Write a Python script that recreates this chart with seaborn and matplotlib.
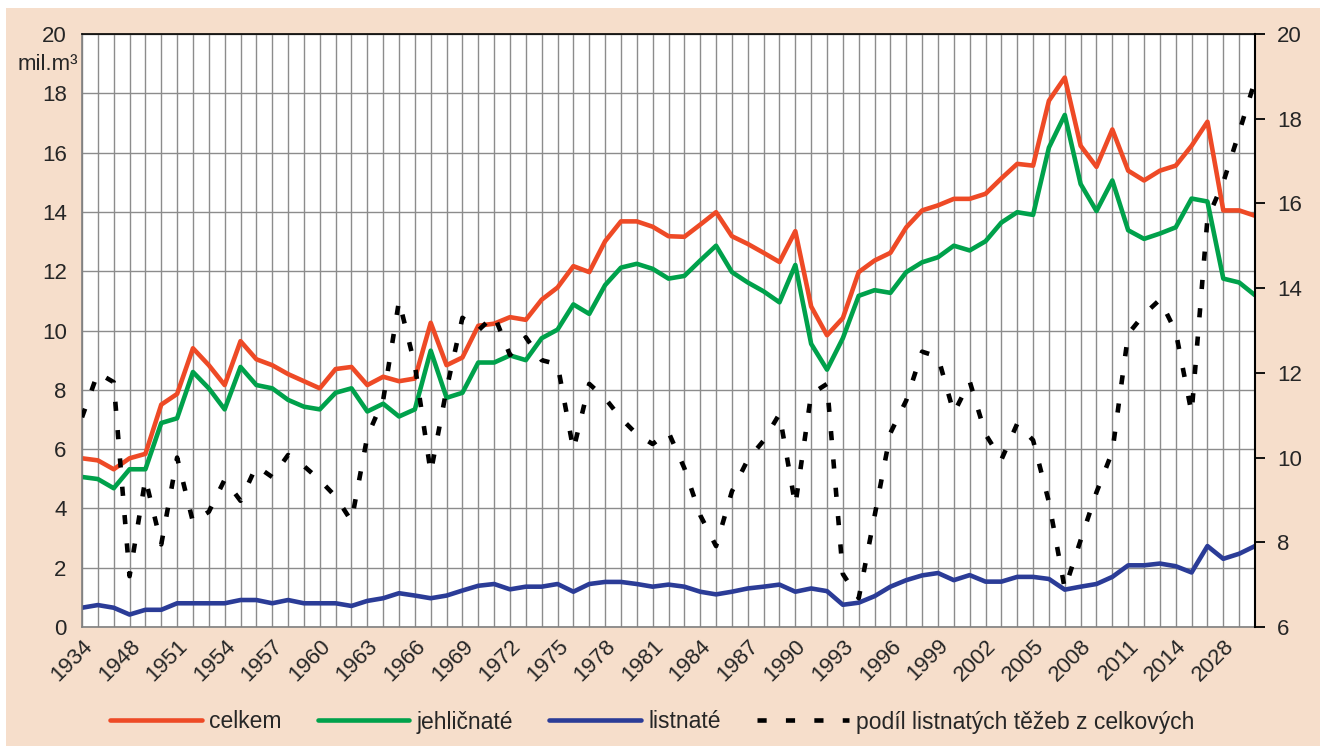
import pandas as pd
import numpy as np
import matplotlib
matplotlib.use("Agg")
import matplotlib.pyplot as plt
from matplotlib.patches import Rectangle
from matplotlib.lines import Line2D
import seaborn as sns

# Kategorie na ose x (popsana je kazda treti)
roky = ["1934", "1937", "1945"] + [str(r) for r in range(1948, 2017)] + ["2028", "2018", "2019"]

# Tezby v mil. m3 (leva osa)
celkem = [5.69, 5.62, 5.32, 5.69, 5.84, 7.50, 7.86, 9.40, 8.83, 8.16,
          9.64, 9.03, 8.83, 8.53, 8.29, 8.05, 8.70, 8.77, 8.16, 8.44,
          8.29, 8.38, 10.26, 8.83, 9.09, 10.16, 10.23, 10.45, 10.36, 11.04,
          11.45, 12.17, 11.97, 13.01, 13.68, 13.68, 13.50, 13.18, 13.16, 13.57,
          13.99, 13.18, 12.92, 12.62, 12.31, 13.35, 10.81, 9.84, 10.42, 11.97,
          12.36, 12.62, 13.48, 14.05, 14.22, 14.44, 14.44, 14.61, 15.13, 15.62,
          15.56, 17.75, 18.53, 16.23, 15.52, 16.78, 15.39, 15.06, 15.39, 15.56,
          16.23, 17.04, 14.05, 14.05, 13.87]

jehlicnate = [5.06, 4.99, 4.68, 5.32, 5.32, 6.88, 7.04, 8.60, 8.05, 7.34,
              8.77, 8.16, 8.05, 7.66, 7.43, 7.34, 7.90, 8.05, 7.27, 7.53,
              7.10, 7.34, 9.32, 7.73, 7.90, 8.92, 8.92, 9.16, 9.00, 9.74,
              10.03, 10.88, 10.56, 11.53, 12.12, 12.25, 12.08, 11.75, 11.84, 12.36,
              12.86, 11.97, 11.62, 11.32, 10.95, 12.21, 9.55, 8.68, 9.74, 11.17,
              11.36, 11.27, 11.97, 12.30, 12.47, 12.86, 12.70, 13.01, 13.64, 13.99,
              13.90, 16.17, 17.27, 14.94, 14.03, 15.06, 13.38, 13.09, 13.27, 13.48,
              14.45, 14.35, 11.75, 11.62, 11.19]

listnate = [0.65, 0.74, 0.65, 0.42, 0.58, 0.58, 0.80, 0.80, 0.80, 0.80,
            0.91, 0.91, 0.80, 0.91, 0.80, 0.80, 0.80, 0.71, 0.88, 0.97,
            1.14, 1.06, 0.97, 1.06, 1.23, 1.39, 1.45, 1.27, 1.36, 1.36,
            1.45, 1.19, 1.45, 1.52, 1.52, 1.45, 1.36, 1.43, 1.36, 1.19,
            1.10, 1.19, 1.30, 1.36, 1.43, 1.19, 1.30, 1.21, 0.75, 0.82,
            1.04, 1.36, 1.58, 1.74, 1.82, 1.58, 1.75, 1.53, 1.53, 1.69,
            1.69, 1.62, 1.26, 1.36, 1.45, 1.69, 2.08, 2.08, 2.14, 2.05,
            1.84, 2.73, 2.30, 2.47, 2.73]

# Podil listnatych tezeb v % (prava osa)
podil = [10.95, 12.00, 11.78, 7.20, 9.50, 7.95, 10.00, 8.48, 8.72, 9.48,
         8.98, 9.80, 9.54, 10.06, 9.80, 9.47, 9.08, 8.50, 10.50, 11.36,
         13.70, 12.18, 9.64, 11.62, 13.30, 13.00, 13.36, 12.42, 12.84, 12.30,
         12.20, 10.18, 11.74, 11.40, 10.93, 10.55, 10.32, 10.60, 9.75, 8.64,
         7.91, 9.20, 9.95, 10.40, 11.03, 8.87, 11.50, 11.74, 7.25, 6.68,
         8.62, 10.58, 11.35, 12.50, 12.38, 11.05, 11.80, 10.55, 9.95, 10.80,
         10.41, 8.95, 6.90, 8.05, 9.18, 10.14, 12.92, 13.38, 13.73, 12.97,
         11.05, 15.64, 16.50, 17.68, 18.90]

df = pd.DataFrame({
    "poradi": np.arange(len(roky)),
    "rok": roky,
    "celkem": celkem,
    "jehlicnate": jehlicnate,
    "listnate": listnate,
    "podil": podil,
})

sns.set_style("white")
plt.rcParams["font.family"] = ["Liberation Sans", "DejaVu Sans"]

cervena = "#EE4A26"
zelena = "#00A14B"
modra = "#2B3C97"
pozadi = "#F6DECB"
mrizka = "#8C8C8C"
tl = 3.3
carky = (0, (2.0, 4.2))

fig = plt.figure(figsize=(13.2, 7.49), dpi=100)
fig.patch.set_facecolor("white")
fig.patches.append(Rectangle((6 / 1320, 3 / 749), 1 - 6 / 1320, 738 / 749,
                             transform=fig.transFigure, facecolor=pozadi,
                             edgecolor="none", zorder=-5))

ax = fig.add_axes([82 / 1320, 1 - 627 / 749, (1255 - 82) / 1320, (627 - 34) / 749])
ax.set_facecolor("white")
ax2 = ax.twinx()

# hlavni krivky
sns.lineplot(data=df, x="poradi", y="celkem", ax=ax, color=cervena, linewidth=tl, legend=False)
sns.lineplot(data=df, x="poradi", y="jehlicnate", ax=ax, color=zelena, linewidth=tl, legend=False)
sns.lineplot(data=df, x="poradi", y="listnate", ax=ax, color=modra, linewidth=tl, legend=False)
sns.lineplot(data=df, x="poradi", y="podil", ax=ax2, color="black", linewidth=tl,
             linestyle=carky, legend=False)

ax.set_xlim(0, len(roky) - 1)
ax.set_ylim(0, 20)
ax2.set_ylim(6, 20)
ax.set_yticks(range(0, 21, 2))
ax2.set_yticks(range(6, 21, 2))
ax.set_xticks(df["poradi"])
ax.set_xticklabels([r if i % 3 == 0 else "" for i, r in enumerate(roky)])
for lbl in ax.get_xticklabels():
    lbl.set_rotation(45)
    lbl.set_ha("right")
    lbl.set_va("top")
    lbl.set_rotation_mode("anchor")

ax.grid(True, color=mrizka, linewidth=1.0)
ax.set_axisbelow(True)
ax.set_xlabel("")
ax.set_ylabel("")
ax2.set_ylabel("")

ax.tick_params(axis="y", length=0, pad=11, labelsize=16)
ax.tick_params(axis="x", length=0, pad=6, labelsize=16)
ax2.tick_params(axis="y", length=7, width=1.3, color="black", pad=9, labelsize=16)

for s in ["left", "bottom"]:
    ax.spines[s].set_color("#808080")
    ax.spines[s].set_linewidth(1.2)
ax.spines["top"].set_color("black")
ax.spines["top"].set_linewidth(1.2)
ax.spines["right"].set_visible(False)
for s in ["left", "bottom", "top"]:
    ax2.spines[s].set_visible(False)
ax2.spines["right"].set_color("black")
ax2.spines["right"].set_linewidth(1.5)

fig.text(18 / 1320, 1 - 70 / 749, "mil.m³", ha="left", va="baseline", fontsize=16)

# legenda
popisky = ["celkem", "jehličnaté", "listnaté", "podíl listnatých těžeb z celkových"]
handles = [Line2D([], [], color=cervena, linewidth=tl),
           Line2D([], [], color=zelena, linewidth=tl),
           Line2D([], [], color=modra, linewidth=tl),
           Line2D([], [], color="black", linewidth=tl, linestyle=carky)]
fig.legend(handles, popisky, loc="center", bbox_to_anchor=(0.494, 1 - 722 / 749),
           ncol=4, frameon=False, fontsize=16.5, handlelength=4.0,
           handletextpad=0.3, columnspacing=1.6)

fig.savefig("out.png", dpi=100)
